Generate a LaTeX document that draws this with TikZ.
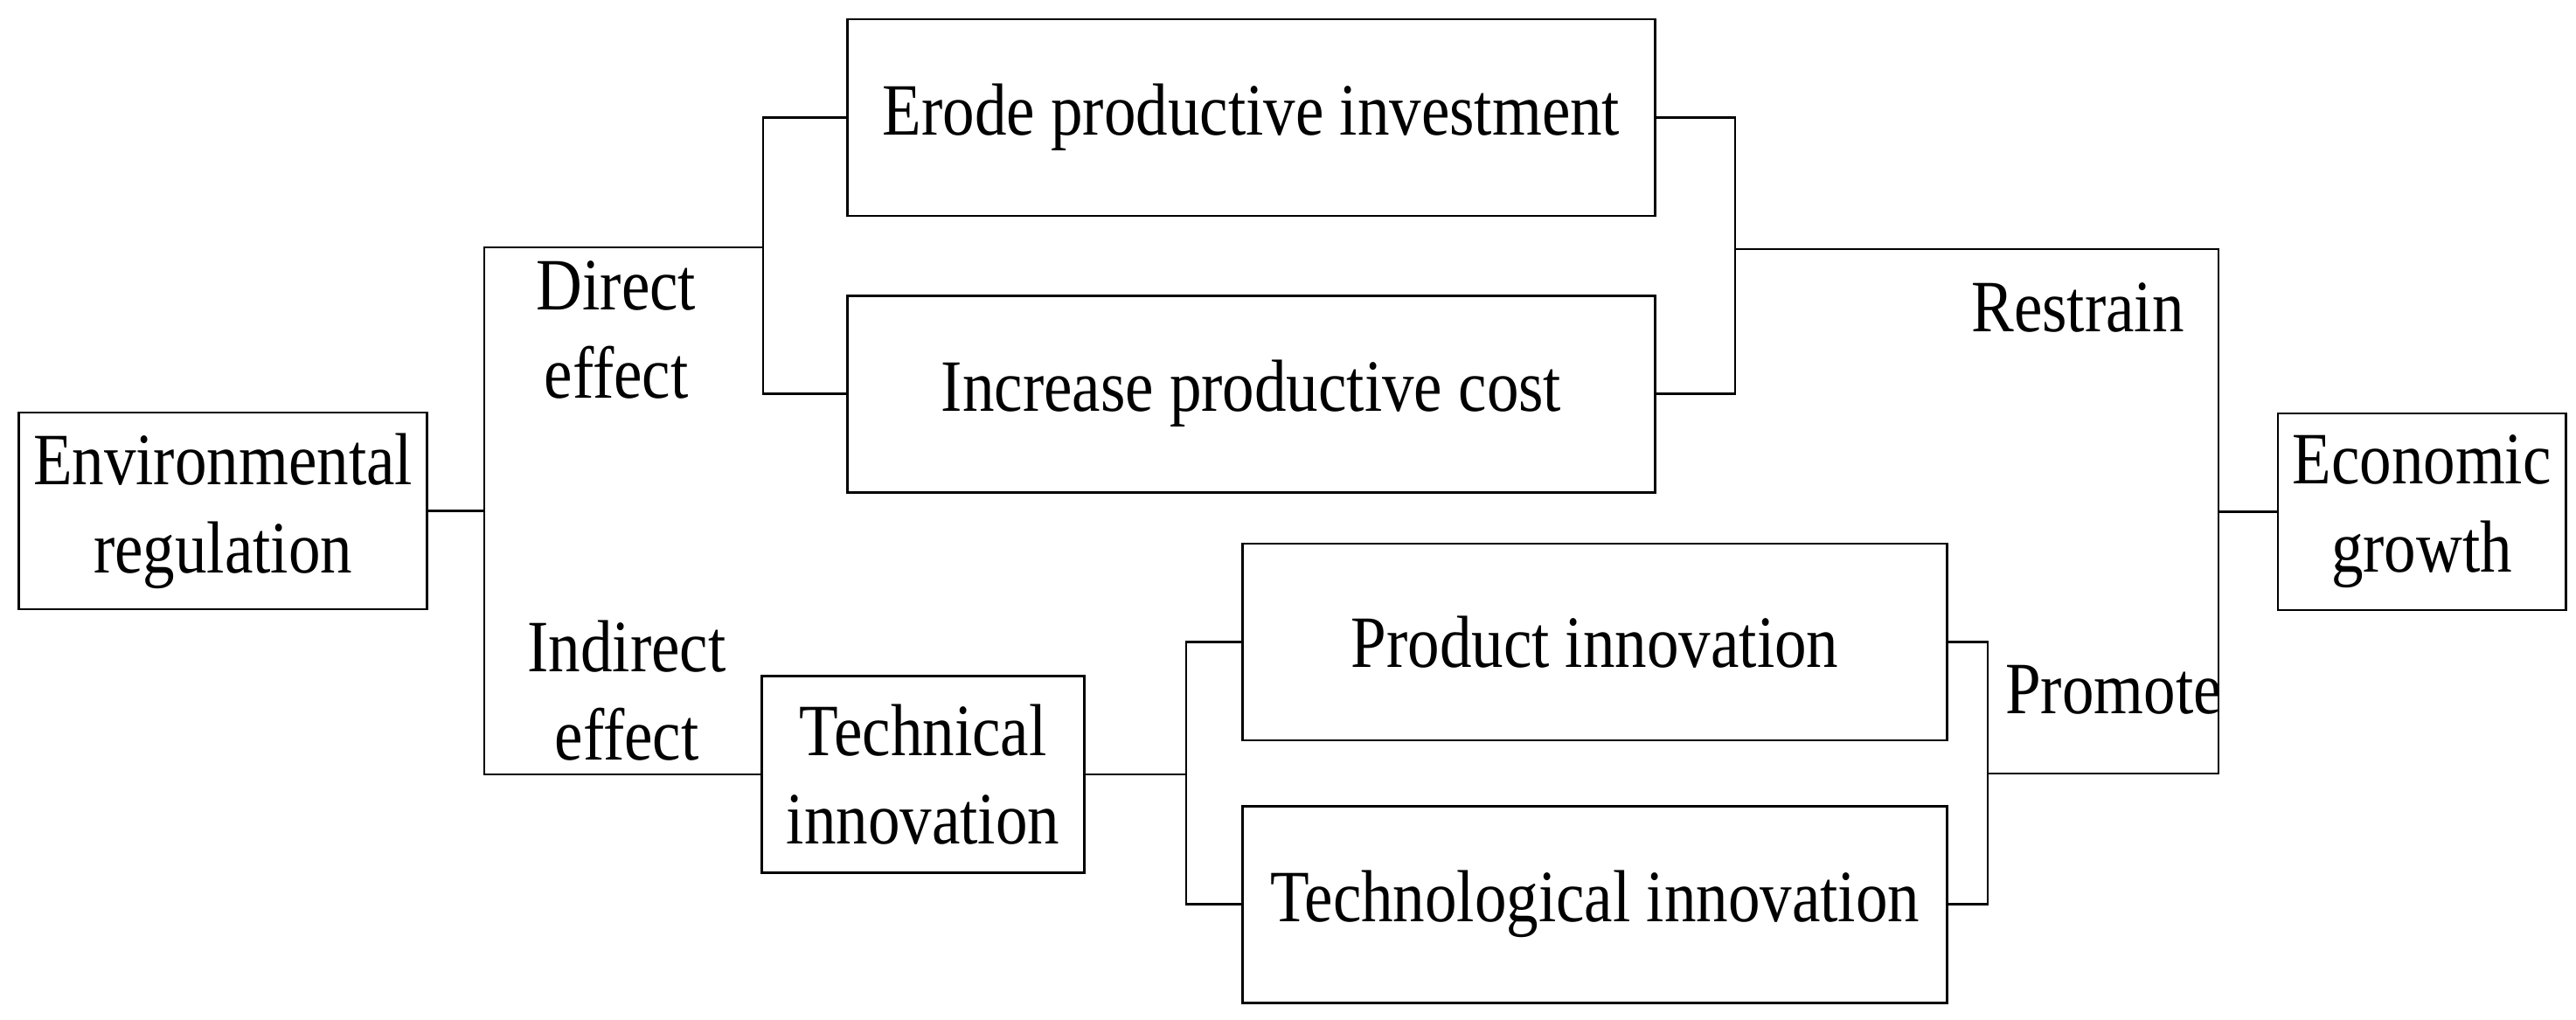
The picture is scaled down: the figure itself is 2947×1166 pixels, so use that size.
\documentclass[tikz,border=0pt]{standalone}
\usepackage{fontspec}
\setmainfont{Liberation Serif}[FakeStretch=0.865]
\usepackage{tikz}

\begin{document}
\begin{tikzpicture}[x=0.01cm,y=-0.01cm,thick,
    every node/.style={font=\fontsize{24pt}{28.7pt}\selectfont},
    box/.style={rectangle,draw,align=center,inner sep=0pt,minimum height=2.25cm},
    lbl/.style={align=center,inner sep=0pt}]
    \useasboundingbox (0,0) rectangle (2947,1166);
    \node[box, minimum width=4.66cm] (env) at (255,584.5) {Environmental\\regulation};
    \node[box, minimum width=9.23cm] (erode) at (1431.5,134.5) {Erode productive investment};
    \node[box, minimum width=9.23cm] (cost) [below of=erode, node distance=3.16cm] {Increase productive cost};
    \node[box, minimum width=3.68cm] (tech) at (1056,886) {Technical\\innovation};
    \node[box, minimum width=8.05cm] (prod) at (1824.5,734.5) {Product innovation};
    \node[box, minimum width=8.05cm] (techno) [below of=prod, node distance=3cm] {Technological innovation};
    \node[box, minimum width=3.29cm] (econ) at (2770.5,585.5) {Economic\\growth};
    \node[lbl] (direct) at (705,377) {Direct\\effect};
    \node[lbl] (indirect) at (717,790) {Indirect\\effect};
    \node[lbl, anchor=base] (restrain) at (2377,379) {Restrain};
    \node[lbl, anchor=base] (promote) at (2418,816) {Promote};
    \coordinate (jl) at (554,584.5);
    \coordinate (jd) at (873,283);
    \coordinate (jt) at (1357,886);
    \coordinate (jr) at (1985,285);
    \coordinate (jp) at (2274,885);
    \coordinate (je) at (2538,585.5);
    \draw (env) -- (jl);
    \draw (jl) |- (jd) (jl) |- (tech);
    \draw (jd) |- (erode) (jd) |- (cost);
    \draw (tech) -- (jt);
    \draw (jt) |- (prod) (jt) |- (techno);
    \draw (erode) -| (jr) |- (cost);
    \draw (prod) -| (jp) |- (techno);
    \draw (jr) -| (je);
    \draw (jp) -| (je);
    \draw (je) -- (econ);
\end{tikzpicture}
\end{document}
